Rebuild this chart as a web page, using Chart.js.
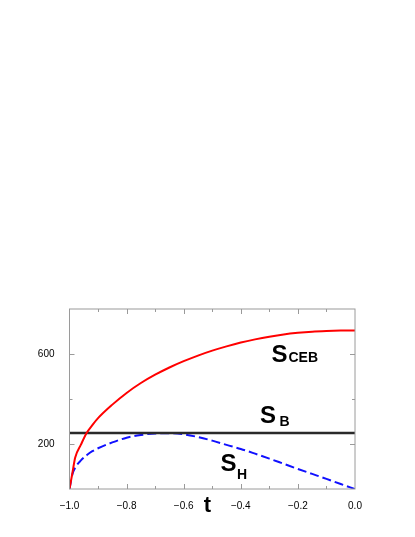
<!DOCTYPE html>
<html>
<head>
<meta charset="utf-8">
<script src="https://cdn.jsdelivr.net/npm/chart.js@4"></script>
<style>
  body { margin: 0; background: #fff; }
  #wrap { width: 415px; height: 537px; position: relative; }
</style>
</head>
<body>
<div id="wrap"><canvas id="chart"></canvas></div>
<script>
// Data
const tValues = [-1, -0.99, -0.98, -0.96, -0.94, -0.92, -0.9, -0.85, -0.8, -0.75, -0.7, -0.65, -0.6,
  -0.55, -0.5, -0.45, -0.4, -0.35, -0.3, -0.25, -0.2, -0.15, -0.1, -0.05, 0];
const sCEB = [0, 70, 140, 197, 249, 284, 315, 375, 427, 471, 508, 540, 568,
  593, 615, 634, 651, 665, 677, 687, 694, 699, 702, 704, 705];
const sH = [0, 65, 95, 127, 150, 168, 181, 207, 228, 240, 247, 248, 243,
  231, 215, 196, 178, 157, 135, 112, 89, 67, 45, 22, 0];
const sBValue = 249;
const sBRange = [-1, 0];
const yTickLabels = [200, 600];

const FONT = '"Liberation Sans", Arial, Helvetica, sans-serif';

const toPoints = (xs, ys) => xs.map((x, i) => ({ x: x, y: ys[i] }));

// Frame, inward ticks on all four sides, text labels
const framePlugin = {
  id: 'frame',
  afterDatasetsDraw(chart) {
    const { ctx, chartArea: a, scales: { x, y } } = chart;
    ctx.save();
    ctx.strokeStyle = '#9a9a9a';
    ctx.lineWidth = 1;
    ctx.strokeRect(a.left, a.top, a.right - a.left, a.bottom - a.top);
    ctx.beginPath();
    for (let i = 1; i < 10; i++) {
      const t = -1 + i * 0.1;
      const px = Math.round(x.getPixelForValue(t)) + 0.5;
      const len = i % 2 === 0 ? 5 : 3;
      ctx.moveTo(px, a.bottom); ctx.lineTo(px, a.bottom - len);
      ctx.moveTo(px, a.top); ctx.lineTo(px, a.top + len);
    }
    [200, 400, 600].forEach(v => {
      const py = Math.round(y.getPixelForValue(v)) + 0.5;
      const len = yTickLabels.includes(v) ? 5 : 3;
      ctx.moveTo(a.left, py); ctx.lineTo(a.left + len, py);
      ctx.moveTo(a.right, py); ctx.lineTo(a.right - len, py);
    });
    ctx.stroke();

    ctx.fillStyle = '#000';
    ctx.textBaseline = 'alphabetic';
    ctx.textAlign = 'left';
    const label = (main, sub, mx, my, sx, sy) => {
      ctx.font = 'bold 24px ' + FONT;
      ctx.fillText(main, mx, my);
      ctx.font = 'bold 14px ' + FONT;
      ctx.fillText(sub, sx, sy);
    };
    label('S', 'CEB', 271.5, 362, 288.5, 362);
    label('S', 'B', 260, 423, 279.5, 425.5);
    label('S', 'H', 220.5, 470.5, 237, 478.5);

    ctx.textAlign = 'center';
    ctx.font = 'bold 22px ' + FONT;
    ctx.fillText('t', 207.5, 512);
    ctx.restore();
  }
};

new Chart(document.getElementById('chart'), {
  type: 'scatter',
  data: {
    datasets: [
      {
        label: 'S_CEB',
        data: toPoints(tValues, sCEB),
        showLine: true,
        borderColor: '#ff0000',
        borderWidth: 2,
        pointRadius: 0,
        cubicInterpolationMode: 'monotone'
      },
      {
        label: 'S_B',
        data: toPoints(sBRange, [sBValue, sBValue]),
        showLine: true,
        borderColor: '#2a2a2a',
        borderWidth: 2.6,
        pointRadius: 0
      },
      {
        label: 'S_H',
        data: toPoints(tValues, sH),
        showLine: true,
        borderColor: '#1010ff',
        borderWidth: 2,
        borderDash: [9, 4],
        pointRadius: 0,
        cubicInterpolationMode: 'monotone'
      }
    ]
  },
  options: {
    responsive: true,
    maintainAspectRatio: false,
    animation: false,
    layout: { padding: { top: 309, right: 60, bottom: 0, left: 0 } },
    plugins: { legend: { display: false }, tooltip: { enabled: false } },
    scales: {
      x: {
        type: 'linear',
        min: -1,
        max: 0,
        grid: { display: false },
        border: { display: false },
        afterFit: s => { s.height = 48; },
        ticks: {
          stepSize: 0.2,
          padding: 3,
          color: '#000',
          font: { family: FONT, size: 10 },
          callback: v => (Math.abs(v) < 1e-9 ? '0.0' : v.toFixed(1).replace('-', '\u2212'))
        }
      },
      y: {
        min: 0,
        max: 800,
        grid: { display: false },
        border: { display: false },
        afterFit: s => { s.width = 69.5; },
        ticks: {
          stepSize: 200,
          padding: 7,
          color: '#000',
          font: { family: FONT, size: 10 },
          callback: v => (yTickLabels.includes(v) ? v : '')
        }
      }
    }
  },
  plugins: [framePlugin]
});
</script>
</body>
</html>
